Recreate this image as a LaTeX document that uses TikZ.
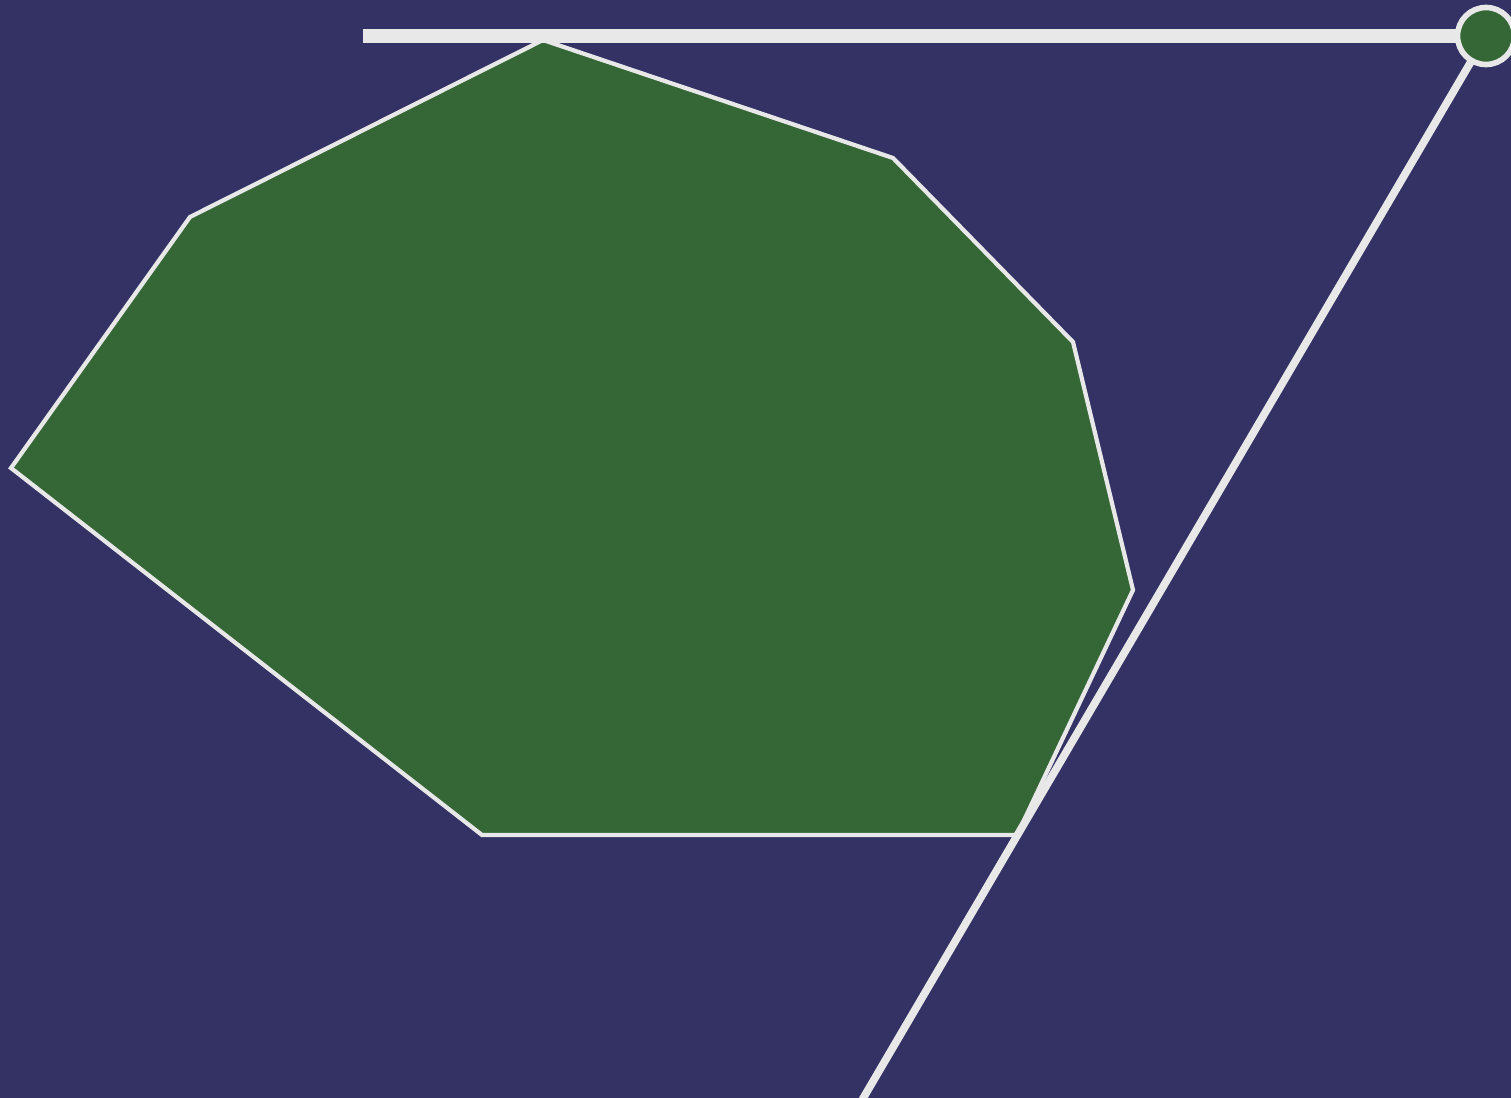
\documentclass[tikz,border=0pt]{standalone}
\begin{document}
\begin{tikzpicture}[x=0.05cm,y=-0.05cm]
\definecolor{bg}{RGB}{52,50,100}
\definecolor{gr}{RGB}{53,103,54}
\definecolor{ln}{RGB}{232,232,232}
\tikzset{blob/.style={fill=gr,draw=ln,line width=6pt,line join=miter},
         rod/.style={draw=ln}}
\fill[bg] (0,0) rectangle (1511,1098);
\useasboundingbox (0,0) rectangle (1511,1098);
\path[blob] (543,40) -- (893,158) -- (1073,342) -- (1133,590) -- (1017,835) -- (482,835) -- (11,468) -- (190,217) -- cycle;
\coordinate (pivot) at (1486,36);
\coordinate (start) at (363,36);
\coordinate (tail) at (858,1107);
\draw[rod,line width=20pt] (start) -- (pivot);
\draw[rod,line width=11pt] (pivot) -- (tail);
\node[circle,fill=gr,draw=ln,line width=8pt,minimum size=57*0.05cm,inner sep=0pt] (bob) at (pivot) {};
\end{tikzpicture}
\end{document}
